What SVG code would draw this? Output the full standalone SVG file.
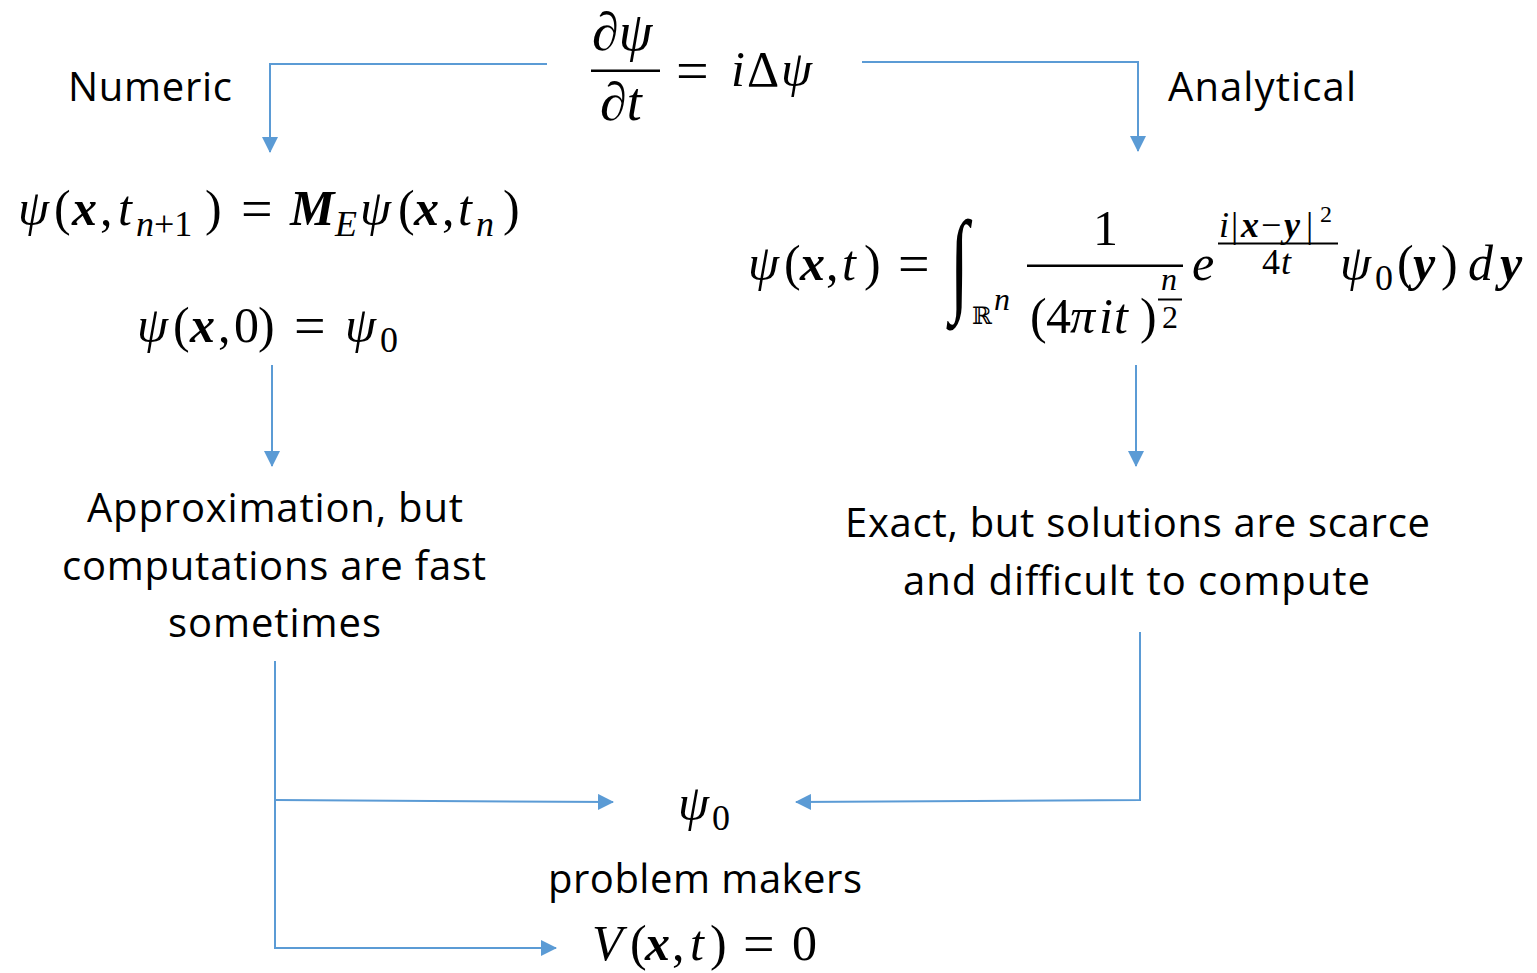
<svg xmlns="http://www.w3.org/2000/svg" width="1537" height="973" viewBox="0 0 1537 973">
<defs>
<style>
.t{font-family:"Open Sans","Liberation Sans",sans-serif;font-size:40px;fill:#000}
.m{font-family:"Liberation Serif","DejaVu Serif",serif;font-style:italic;font-size:50px;fill:#000}
.u{font-style:normal}
.b{font-weight:bold}
.s{font-size:36px}
.e{font-size:36px}
.es{font-size:24px}
.c{fill:none;stroke:#5B9BD5;stroke-width:2}
.bar{fill:#000}
</style>
<marker id="ah" markerUnits="userSpaceOnUse" markerWidth="16" markerHeight="16" refX="15" refY="8" orient="auto">
<path d="M0,0 L16,8 L0,16 z" fill="#5B9BD5"/>
</marker>
</defs>
<rect width="1537" height="973" fill="#fff"/>

<g id="connectors">
<path class="c" d="M547,64 H270 V152" marker-end="url(#ah)"/>
<path class="c" d="M862,62 H1138 V151" marker-end="url(#ah)"/>
<path class="c" d="M272,365 V466" marker-end="url(#ah)"/>
<path class="c" d="M1136,365 V466" marker-end="url(#ah)"/>
<path class="c" d="M275,661 V949"/>
<path class="c" d="M275,800 L613,802" marker-end="url(#ah)"/>
<path class="c" d="M275,948 H556" marker-end="url(#ah)"/>
<path class="c" d="M1140,632 V800 L796,802" marker-end="url(#ah)"/>
</g>

<g id="pde">
<text class="m" style="font-size:54px" x="592" y="50">∂ψ</text>
<rect class="bar" x="591" y="69.5" width="69" height="2.5"/>
<text class="m" style="font-size:54px" x="600" y="120">∂t</text>
<text class="m" y="86"><tspan class="u" style="font-size:58px" x="676" y="90">=</tspan><tspan x="731" y="86">i</tspan><tspan class="u" x="747">Δ</tspan><tspan x="781">ψ</tspan></text>
</g>

<g id="label-numeric"><text class="t" x="68" y="101" textLength="164">Numeric</text></g>
<g id="label-analytical"><text class="t" x="1168" y="101" textLength="188">Analytical</text></g>

<g id="numeric-scheme">
<text class="m" y="225"><tspan x="18">ψ</tspan><tspan class="u" x="54">(</tspan><tspan class="b" x="72">x</tspan><tspan class="u" x="100">,</tspan><tspan x="118">t</tspan><tspan class="s" x="136" y="236">n</tspan><tspan class="s u" y="236">+1</tspan><tspan class="u" x="205" y="225">)</tspan><tspan class="u" style="font-size:56px" x="241" y="228">=</tspan><tspan class="b" x="290" y="225">M</tspan><tspan class="s" x="335" y="236">E</tspan><tspan x="360" y="225">ψ</tspan><tspan class="u" x="398">(</tspan><tspan class="b" x="414">x</tspan><tspan class="u" x="442">,</tspan><tspan x="458">t</tspan><tspan class="s" x="476" y="236">n</tspan><tspan class="u" x="503" y="225">)</tspan></text>
<text class="m" y="342"><tspan x="137">ψ</tspan><tspan class="u" x="173">(</tspan><tspan class="b" x="190">x</tspan><tspan class="u" x="218">,</tspan><tspan class="u" x="234">0</tspan><tspan class="u" x="258">)</tspan><tspan class="u" style="font-size:56px" x="294" y="345">=</tspan><tspan x="345" y="342">ψ</tspan><tspan class="s u" x="380" y="352">0</tspan></text>
</g>

<g id="analytical-solution">
<text class="m" y="280"><tspan x="748">ψ</tspan><tspan class="u" x="784">(</tspan><tspan class="b" x="800">x</tspan><tspan class="u" x="826">,</tspan><tspan x="842">t</tspan><tspan class="u" x="864">)</tspan><tspan class="u" style="font-size:56px" x="898" y="283">=</tspan></text>
<text class="m u" style="font-size:76px" transform="translate(950,300) scale(0.9,1.5)" x="0" y="0">∫</text>
<text font-family="DejaVu Serif,serif" style="font-size:24px" x="972" y="324">ℝ</text>
<text class="m" style="font-size:32px" x="994" y="310">n</text>
<text class="m u" x="1093" y="245">1</text>
<rect class="bar" x="1027" y="264.5" width="156" height="2.5"/>
<text class="m" y="333"><tspan class="u" x="1030">(</tspan><tspan class="u" x="1046">4</tspan><tspan x="1070">π</tspan><tspan x="1099">i</tspan><tspan x="1114">t</tspan><tspan class="u" x="1140">)</tspan></text>
<text class="m" style="font-size:32px" x="1161" y="290">n</text>
<rect class="bar" x="1158" y="298.5" width="24" height="2"/>
<text class="m u" style="font-size:32px" x="1162" y="328">2</text>
<text class="m" x="1192" y="280">e</text>
<text class="m e" y="237"><tspan x="1219">i</tspan><tspan class="u" x="1231">|</tspan><tspan class="b" x="1241">x</tspan><tspan class="u" x="1261">−</tspan><tspan class="b" x="1284">y</tspan><tspan class="u" x="1306">|</tspan><tspan class="u es" x="1320" y="222">2</tspan></text>
<rect class="bar" x="1218" y="242.5" width="120" height="2"/>
<text class="m e" y="274"><tspan class="u" x="1262">4</tspan><tspan x="1281">t</tspan></text>
<text class="m" y="280"><tspan x="1340">ψ</tspan><tspan class="s u" x="1375" y="290">0</tspan><tspan class="u" x="1397" y="280">(</tspan><tspan class="b" x="1413">y</tspan><tspan class="u" x="1441">)</tspan><tspan x="1468">d</tspan><tspan class="b" x="1500">y</tspan></text>
</g>

<g id="numeric-verdict">
<text class="t" text-anchor="middle" x="275" y="522" textLength="376">Approximation, but</text>
<text class="t" text-anchor="middle" x="274" y="580" textLength="424">computations are fast</text>
<text class="t" text-anchor="middle" x="274.5" y="637" textLength="213">sometimes</text>
</g>

<g id="analytical-verdict">
<text class="t" text-anchor="middle" x="1137.5" y="537" textLength="585">Exact, but solutions are scarce</text>
<text class="t" text-anchor="middle" x="1136.5" y="595" textLength="467">and difficult to compute</text>
</g>

<g id="problem-makers">
<text class="m" y="820"><tspan x="678">ψ</tspan><tspan class="s u" x="712" y="830">0</tspan></text>
<text class="t" text-anchor="middle" x="705" y="893" textLength="314">problem makers</text>
</g>

<g id="potential">
<text class="m" y="960"><tspan x="592">V</tspan><tspan class="u" x="630">(</tspan><tspan class="b" x="645">x</tspan><tspan class="u" x="672">,</tspan><tspan x="690">t</tspan><tspan class="u" x="710">)</tspan><tspan class="u" style="font-size:56px" x="743" y="963">=</tspan><tspan class="u" x="792" y="960">0</tspan></text>
</g>
</svg>
